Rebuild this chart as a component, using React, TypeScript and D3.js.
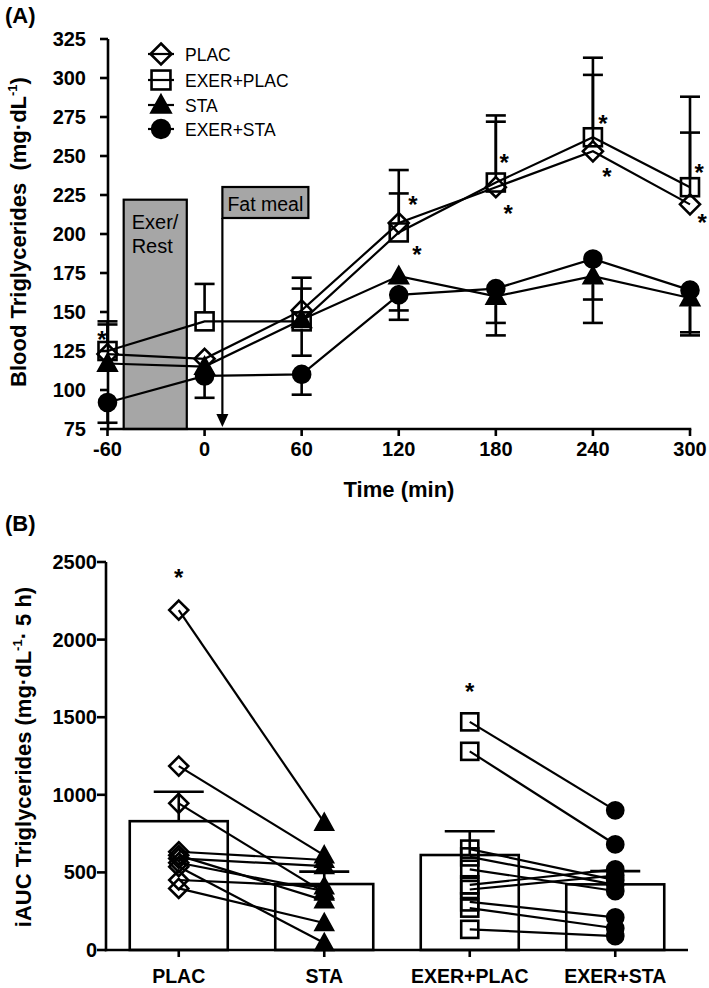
import React from 'react';
import * as d3 from 'd3';

// ---------- Panel A data ----------
const times = [-60, 0, 60, 120, 180, 240, 300];
const placMean = [123, 120, 151, 207, 230, 253, 219];
const exerPlacMean = [125, 144, 144, 201, 233, 262, 230];
const staMean = [117, 115, 145, 173, 160, 173, 159];
const exerStaMean = [92, 109, 110, 161, 165, 184, 164];
// error bar ends (upper for PLAC groups, lower for STA groups)
const placErrEnd = [142, null, 165, 226, 272, 302, 265];
const exerPlacErrEnd = [144, 168, 172, 241, 276, 313, 288];
const staErrEnd = [null, null, 122, 151, 143, 158, 137];
const exerStaErrEnd = [79, 95, 97, 145, 135, 143, 135];
const yTicksA = [75, 100, 125, 150, 175, 200, 225, 250, 275, 300, 325];
const legendNames = ['PLAC', 'EXER+PLAC', 'STA', 'EXER+STA'];
// asterisks [time, value]
const starsA: [number, number][] = [
  [-63.4, 135], [128.8, 222], [131.3, 190], [185.1, 249], [187.6, 216],
  [246.2, 274], [248.7, 240], [305.6, 242], [307.5, 210],
];
const exerWindow = [-50, -11];
const exerTop = 222;
const fatMealTime = 11;

// ---------- Panel B data ----------
const groupsB = ['PLAC', 'STA', 'EXER+PLAC', 'EXER+STA'];
const barMeans = [830, 425, 612, 423];
const barErrEnd = [1020, 505, 765, 508];
const placInd = [2190, 1185, 945, 633, 610, 590, 562, 537, 451, 397];
const staInd = [820, 610, 370, 580, 320, 540, 380, 45, 410, 174];
const exerPlacInd = [1470, 1280, 650, 600, 520, 420, 390, 310, 270, 133];
const exerStaInd = [900, 680, 450, 420, 380, 520, 480, 210, 140, 90];
const yTicksB = [0, 500, 1000, 1500, 2000, 2500];
const starsB: [string, number][] = [['PLAC', 2430], ['EXER+PLAC', 1695]];

const FONT = '"Liberation Sans", Arial, Helvetica, sans-serif';

type Shape = 'diamond' | 'square' | 'triangle' | 'circle';

function Marker({ shape, x, y, s = 1, filled }: { shape: Shape; x: number; y: number; s?: number; filled: boolean }) {
  const common = {
    fill: filled ? '#000' : 'none',
    stroke: '#000',
    strokeWidth: 2.6,
  };
  if (shape === 'circle') return <circle cx={x} cy={y} r={8.5 * s} {...common} />;
  if (shape === 'square') {
    const h = 9 * s;
    return <rect x={x - h} y={y - h} width={2 * h} height={2 * h} {...common} />;
  }
  if (shape === 'diamond') {
    const r = 10 * s;
    return <path d={`M${x},${y - r}L${x + r},${y}L${x},${y + r}L${x - r},${y}Z`} {...common} strokeLinejoin="miter" />;
  }
  const h = 9 * s;
  return <path d={`M${x},${y - h}L${x + h},${y + h * 0.8}L${x - h},${y + h * 0.8}Z`} {...common} />;
}

export default function App() {
  const xA = d3.scaleLinear().domain([-60, 300]).range([107.5, 690]);
  const yA = d3.scaleLinear().domain([75, 325]).range([429, 39]);
  const xB = d3.scalePoint<string>().domain(groupsB).range([106, 688]).padding(0.5);
  const yB = d3.scaleLinear().domain([0, 2500]).range([950, 562]);
  const barW = 98;

  const seriesA = [
    { name: 'PLAC', mean: placMean, err: placErrEnd, shape: 'diamond' as Shape, filled: false, dir: 1 },
    { name: 'EXER+PLAC', mean: exerPlacMean, err: exerPlacErrEnd, shape: 'square' as Shape, filled: false, dir: 1 },
    { name: 'STA', mean: staMean, err: staErrEnd, shape: 'triangle' as Shape, filled: true, dir: -1 },
    { name: 'EXER+STA', mean: exerStaMean, err: exerStaErrEnd, shape: 'circle' as Shape, filled: true, dir: -1 },
  ];
  const line = d3.line<number>().x((_, i) => xA(times[i])).y((d) => yA(d));

  const pairs = [
    { a: 'PLAC', b: 'STA', va: placInd, vb: staInd, sa: 'diamond' as Shape, sb: 'triangle' as Shape },
    { a: 'EXER+PLAC', b: 'EXER+STA', va: exerPlacInd, vb: exerStaInd, sa: 'square' as Shape, sb: 'circle' as Shape },
  ];

  const ax = { stroke: '#000', strokeWidth: 2.6 };
  const supStyle = { fontSize: 13 };

  return (
    <svg width={709} height={988} style={{ position: 'absolute', left: 0, top: 0, background: '#fff' }} fontFamily={FONT}>
      <rect width={709} height={988} fill="#fff" />
      {/* ---------------- Panel A ---------------- */}
      <text x={5} y={23} fontSize={22} fontWeight="bold">(A)</text>

      {/* Exer/Rest box */}
      <rect x={xA(exerWindow[0])} y={yA(exerTop)} width={xA(exerWindow[1]) - xA(exerWindow[0])} height={yA(75) - yA(exerTop)}
        fill="#a6a6a6" stroke="#000" strokeWidth={2.2} />
      <text x={xA(exerWindow[0]) + 8} y={229} fontSize={20}>Exer/</text>
      <text x={xA(exerWindow[0]) + 8} y={252.5} fontSize={20}>Rest</text>

      {/* Fat meal */}
      <rect x={xA(fatMealTime)} y={187} width={86} height={31} fill="#a6a6a6" stroke="#000" strokeWidth={2.2} />
      <text x={xA(fatMealTime) + 5} y={210.5} fontSize={19.5}>Fat meal</text>
      <line x1={xA(fatMealTime)} x2={xA(fatMealTime)} y1={218} y2={416} stroke="#000" strokeWidth={2.2} />
      <path d={`M${xA(fatMealTime) - 6},${414}L${xA(fatMealTime) + 6},${414}L${xA(fatMealTime)},${427}Z`} fill="#000" />

      {/* axes A */}
      <line x1={108} x2={108} y1={yA(325)} y2={yA(75) + 1.3} {...ax} />
      <line x1={106.7} x2={xA(300) + 1.3} y1={yA(75)} y2={yA(75)} {...ax} />
      {yTicksA.map((t) => (
        <g key={t}>
          <line x1={100} x2={108} y1={yA(t)} y2={yA(t)} {...ax} />
          <text x={86} y={yA(t) + 7} fontSize={20} fontWeight="bold" textAnchor="end">{t}</text>
        </g>
      ))}
      {times.map((t) => (
        <g key={t}>
          <line x1={xA(t)} x2={xA(t)} y1={yA(75)} y2={yA(75) + 7} {...ax} />
          <text x={xA(t)} y={456} fontSize={20} fontWeight="bold" textAnchor="middle">{t}</text>
        </g>
      ))}
      <text x={399} y={497} fontSize={22} fontWeight="bold" textAnchor="middle">Time (min)</text>
      <text transform="translate(26,232) rotate(-90)" fontSize={22} fontWeight="bold" textAnchor="middle" style={{ whiteSpace: 'pre' }}>
        {'Blood Triglycerides  (mg·dL'}
        <tspan dy={-9} style={supStyle}>-1</tspan>
        <tspan dy={9}>)</tspan>
      </text>

      {/* series lines */}
      {seriesA.map((s) => (
        <path key={s.name + 'l'} d={line(s.mean) || ''} fill="none" stroke="#000" strokeWidth={2.2} />
      ))}
      {/* error bars */}
      {seriesA.map((s) =>
        s.err.map((e, i) => {
          if (e == null) return null;
          const x = xA(times[i]);
          const y0 = yA(s.mean[i]) - s.dir * 9;
          const y1 = yA(e);
          return (
            <g key={s.name + 'e' + i}>
              <line x1={x} x2={x} y1={y0} y2={y1} stroke="#000" strokeWidth={2.6} />
              <line x1={x - 10} x2={x + 10} y1={y1} y2={y1} stroke="#000" strokeWidth={2.6} />
            </g>
          );
        })
      )}
      {/* markers */}
      {seriesA.map((s) =>
        s.mean.map((v, i) => <Marker key={s.name + 'm' + i} shape={s.shape} x={xA(times[i])} y={yA(v)} filled={s.filled} />)
      )}
      {starsA.map(([t, v], i) => (
        <text key={'sa' + i} x={xA(t)} y={yA(v) + 13} fontSize={24} fontWeight="bold" textAnchor="middle">*</text>
      ))}

      {/* legend */}
      {seriesA.map((s, i) => {
        const ly = [54, 80, 105, 129][i];
        return (
          <g key={'lg' + i}>
            <line x1={148} x2={174} y1={ly} y2={ly} stroke="#000" strokeWidth={2.2} />
            <Marker shape={s.shape} x={161} y={ly} filled={s.filled} s={1.05} />
            <text x={185} y={ly + 6.5} fontSize={17.5}>{legendNames[i]}</text>
          </g>
        );
      })}

      {/* ---------------- Panel B ---------------- */}
      <text x={5} y={531} fontSize={22} fontWeight="bold">(B)</text>
      {/* bars */}
      {groupsB.map((g, i) => (
        <g key={'b' + g}>
          <rect x={(xB(g) as number) - barW / 2} y={yB(barMeans[i])} width={barW} height={yB(0) - yB(barMeans[i])}
            fill="#fff" stroke="#000" strokeWidth={2.6} />
          <line x1={xB(g)} x2={xB(g)} y1={yB(barMeans[i])} y2={yB(barErrEnd[i])} stroke="#000" strokeWidth={2.6} />
          <line x1={(xB(g) as number) - 25} x2={(xB(g) as number) + 25} y1={yB(barErrEnd[i])} y2={yB(barErrEnd[i])} stroke="#000" strokeWidth={2.6} />
        </g>
      ))}
      {/* paired lines */}
      {pairs.map((p) =>
        p.va.map((v, i) => (
          <line key={p.a + 'pl' + i} x1={xB(p.a)} y1={yB(v)} x2={xB(p.b)} y2={yB(p.vb[i])} stroke="#000" strokeWidth={2.2} />
        ))
      )}
      {pairs.map((p) =>
        p.va.map((v, i) => (
          <g key={p.a + 'pm' + i}>
            <Marker shape={p.sa} x={xB(p.a) as number} y={yB(v)} filled={false} s={0.95} />
            <Marker shape={p.sb} x={xB(p.b) as number} y={yB(p.vb[i])} filled={true} s={0.95} />
          </g>
        ))
      )}
      {starsB.map(([g, v], i) => (
        <text key={'sb' + i} x={xB(g)} y={yB(v) + 13} fontSize={24} fontWeight="bold" textAnchor="middle">*</text>
      ))}
      {/* axes B */}
      <line x1={106} x2={106} y1={yB(2500)} y2={yB(0) + 1.3} {...ax} />
      <line x1={104.7} x2={688} y1={yB(0)} y2={yB(0)} {...ax} />
      {yTicksB.map((t) => (
        <g key={'tb' + t}>
          <line x1={97} x2={106} y1={yB(t)} y2={yB(t)} {...ax} />
          <text x={97} y={yB(t) + 7} fontSize={20} fontWeight="bold" textAnchor="end">{t}</text>
        </g>
      ))}
      {groupsB.map((g) => (
        <g key={'xb' + g}>
          <line x1={xB(g)} x2={xB(g)} y1={yB(0)} y2={yB(0) + 7} {...ax} />
          <text x={xB(g)} y={983} fontSize={19.5} fontWeight="bold" textAnchor="middle">{g}</text>
        </g>
      ))}
      <text transform="translate(31,757) rotate(-90)" fontSize={22} fontWeight="bold" textAnchor="middle" style={{ whiteSpace: 'pre' }}>
        {'iAUC Triglycerides (mg·dL'}
        <tspan dy={-9} style={supStyle}>-1</tspan>
        <tspan dy={9}>{'· 5 h)'}</tspan>
      </text>
    </svg>
  );
}
